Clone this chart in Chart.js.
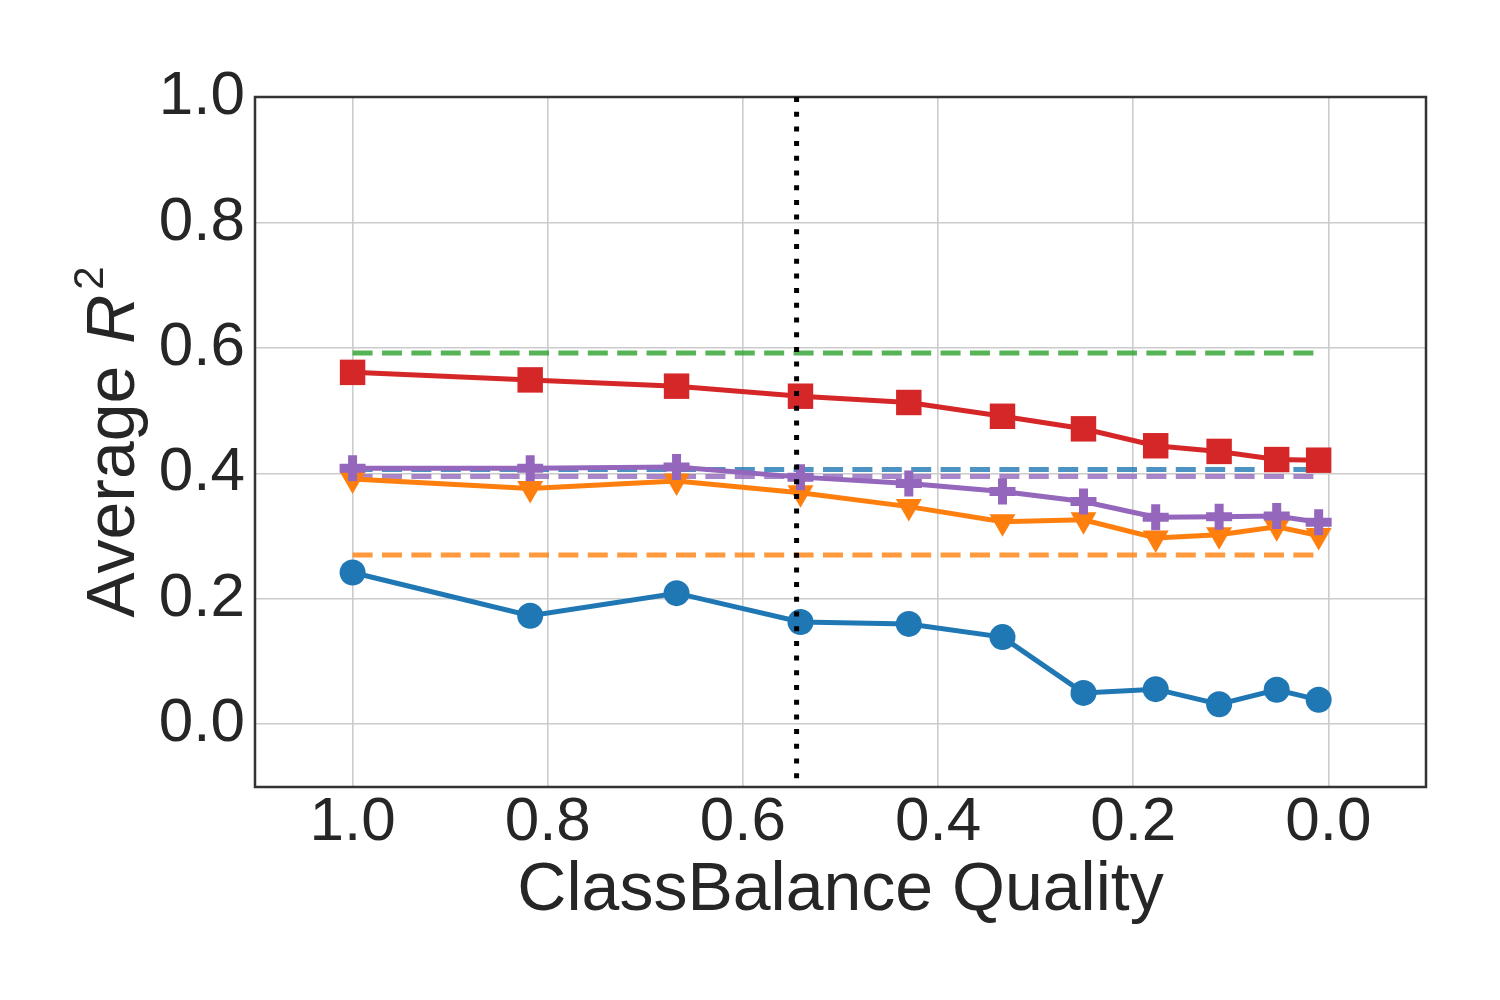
<!DOCTYPE html>
<html>
<head>
<meta charset="utf-8">
<title>ClassBalance Quality</title>
<script src="https://cdn.jsdelivr.net/npm/chart.js@4.4.1/dist/chart.umd.min.js"></script>
<style>
  body { margin: 0; background: #fff; }
  #wrap { width: 1500px; height: 1000px; }
</style>
</head>
<body>
<div id="wrap"><canvas id="myChart" width="1500" height="1000"></canvas></div>
<script>
// x positions (axis runs from 1.0 on the left down to 0.0)
const quality = [1.0, 0.818, 0.668, 0.541, 0.430, 0.334, 0.251, 0.177, 0.112, 0.053, 0.010];

// series
const blueVals   = [0.242, 0.173, 0.209, 0.163, 0.160, 0.139, 0.050, 0.056, 0.032, 0.055, 0.039];
const orangeVals = [0.391, 0.376, 0.388, 0.369, 0.347, 0.323, 0.326, 0.297, 0.302, 0.315, 0.301];
const redVals    = [0.561, 0.549, 0.539, 0.523, 0.513, 0.491, 0.471, 0.444, 0.435, 0.422, 0.421];
const purpleVals = [0.408, 0.408, 0.410, 0.394, 0.384, 0.371, 0.355, 0.330, 0.331, 0.332, 0.322];

// flat reference levels (dashed lines)
const greenRef  = 0.592;
const blueRef   = 0.406;
const purpleRef = 0.395;
const orangeRef = 0.270;

// dotted vertical line
const cutoff = 0.545;

const xTicks = [1.0, 0.8, 0.6, 0.4, 0.2, 0.0];
const yTicks = [0.0, 0.2, 0.4, 0.6, 0.8, 1.0];
const xMin = -0.1, xMax = 1.1;
const yMin = -0.1, yMax = 1.0;

const BLUE = '#1f77b4', ORANGE = '#ff7f0e', GREEN = '#2ca02c', RED = '#d62728', PURPLE = '#9467bd';
const TEXT = '#262626';

function pts(ys) {
  return quality.map((q, i) => ({ x: q, y: ys[i] }));
}
function flat(v) {
  return [{ x: quality[0], y: v }, { x: quality[quality.length - 1], y: v }];
}
function fade(hex, a) {
  const n = parseInt(hex.slice(1), 16);
  return `rgba(${n >> 16},${(n >> 8) & 255},${n & 255},${a})`;
}

function refLine(v, color, order) {
  return {
    data: flat(v), borderColor: fade(color, 0.8), borderWidth: 5,
    borderDash: [20, 9.4], pointRadius: 0, order: order
  };
}

// frame round the plot area
const framePlugin = {
  id: 'frame',
  beforeDatasetsDraw(chart) {
    const { ctx, chartArea: a } = chart;
    ctx.save();
    ctx.strokeStyle = '#333333';
    ctx.lineWidth = 2.5;
    ctx.strokeRect(a.left, a.top, a.right - a.left, a.bottom - a.top);
    ctx.restore();
  }
};

// y title with italic R and superscript 2
const yTitlePlugin = {
  id: 'yTitle',
  afterDraw(chart) {
    const { ctx, chartArea: a } = chart;
    ctx.save();
    ctx.fillStyle = TEXT;
    ctx.textBaseline = 'alphabetic';
    ctx.font = '68px "Liberation Sans"';
    const w1 = ctx.measureText('Average ').width;
    ctx.font = 'italic 68px "Liberation Sans"';
    const w2 = ctx.measureText('R').width;
    ctx.font = '42px "Liberation Sans"';
    const w3 = ctx.measureText('2').width;
    const total = w1 + 3 + w2 + 5 + w3;
    const cy = (a.top + a.bottom) / 2;
    ctx.translate(a.left - 121, cy + total / 2);
    ctx.rotate(-Math.PI / 2);
    ctx.font = '68px "Liberation Sans"';
    ctx.fillText('Average ', 0, 0);
    ctx.font = 'italic 68px "Liberation Sans"';
    ctx.fillText('R', w1 + 3, 0);
    ctx.font = '42px "Liberation Sans"';
    ctx.fillText('2', w1 + 3 + w2 + 5, -31);
    ctx.restore();
  }
};

Chart.defaults.font.family = '"Liberation Sans", Arial, sans-serif';
Chart.defaults.color = TEXT;

const ctx = document.getElementById('myChart');
new Chart(ctx, {
  type: 'line',
  data: {
    datasets: [
      {
        data: [{ x: cutoff, y: yMax }, { x: cutoff, y: yMin }],
        borderColor: '#000000', borderWidth: 5, borderDash: [5, 9.7],
        pointRadius: 0, order: 0
      },
      {
        data: pts(purpleVals), borderColor: PURPLE, borderWidth: 5,
        pointStyle: 'cross', pointRadius: 13, pointBorderWidth: 9,
        pointBorderColor: PURPLE, pointBackgroundColor: PURPLE, order: 1
      },
      {
        data: pts(redVals), borderColor: RED, borderWidth: 5,
        pointStyle: 'rect', pointRadius: 18, pointBorderWidth: 0,
        pointBackgroundColor: RED, order: 2
      },
      {
        data: pts(orangeVals), borderColor: ORANGE, borderWidth: 5,
        pointStyle: 'triangle', pointRotation: 180, pointRadius: 15, pointBorderWidth: 0,
        pointBackgroundColor: ORANGE, order: 3
      },
      {
        data: pts(blueVals), borderColor: BLUE, borderWidth: 5,
        pointStyle: 'circle', pointRadius: 13, pointBorderWidth: 0,
        pointBackgroundColor: BLUE, order: 4
      },
      refLine(greenRef, GREEN, 5),
      refLine(blueRef, BLUE, 6),
      refLine(purpleRef, PURPLE, 7),
      refLine(orangeRef, ORANGE, 8)
    ]
  },
  options: {
    responsive: false,
    animation: false,
    events: [],
    layout: { padding: { left: 0, top: 97, right: 74, bottom: 0 } },
    plugins: {
      legend: { display: false },
      tooltip: { enabled: false }
    },
    scales: {
      x: {
        type: 'linear',
        reverse: true,
        min: xMin,
        max: xMax,
        afterBuildTicks: s => { s.ticks = xTicks.map(v => ({ value: v })); },
        afterFit: s => { s.height = 213; },
        grid: { color: '#cccccc', lineWidth: 1.6, drawTicks: false },
        border: { display: false },
        ticks: {
          font: { size: 62, lineHeight: 1 }, color: TEXT, padding: 5,
          maxRotation: 0, autoSkip: false,
          callback: v => v.toFixed(1)
        },
        title: {
          display: true, text: 'ClassBalance Quality', color: TEXT,
          font: { size: 68, lineHeight: 1 }, padding: { top: 0, bottom: 75 }
        }
      },
      y: {
        type: 'linear',
        min: yMin,
        max: yMax,
        afterBuildTicks: s => { s.ticks = yTicks.map(v => ({ value: v })); },
        afterFit: s => { s.width = 255; },
        grid: { color: '#cccccc', lineWidth: 1.6, drawTicks: false },
        border: { display: false },
        ticks: {
          font: { size: 62, lineHeight: 1 }, color: TEXT, padding: 10,
          callback: v => v.toFixed(1)
        }
      }
    }
  },
  plugins: [framePlugin, yTitlePlugin]
});
</script>
</body>
</html>
